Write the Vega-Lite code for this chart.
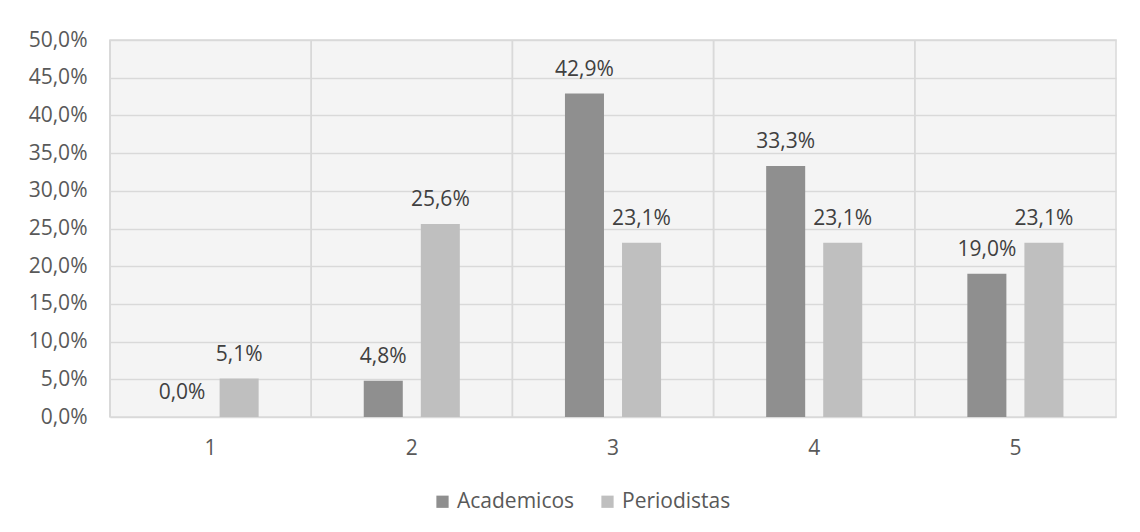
{
  "$schema": "https://vega.github.io/schema/vega-lite/v6.json",
  "width": 1006,
  "height": 377,
  "autosize": "none",
  "padding": {"left": 110, "top": 40, "right": 24, "bottom": 115},
  "background": "white",
  "config": {
    "locale": {"number": {"decimal": ",", "thousands": ".", "grouping": [3], "currency": ["", " €"]}},
    "font": "Open Sans",
    "view": {"stroke": "#d9d9d9", "strokeWidth": 1.5, "fill": "#f4f4f4"}
  },
  "data": {
    "values": [
      {"cat": "1", "serie": "Academicos", "valor": 0.0},
      {"cat": "1", "serie": "Periodistas", "valor": 0.051},
      {"cat": "2", "serie": "Academicos", "valor": 0.048},
      {"cat": "2", "serie": "Periodistas", "valor": 0.256},
      {"cat": "3", "serie": "Academicos", "valor": 0.429},
      {"cat": "3", "serie": "Periodistas", "valor": 0.231},
      {"cat": "4", "serie": "Academicos", "valor": 0.333},
      {"cat": "4", "serie": "Periodistas", "valor": 0.231},
      {"cat": "5", "serie": "Academicos", "valor": 0.19},
      {"cat": "5", "serie": "Periodistas", "valor": 0.231}
    ]
  },
  "layer": [
    {
      "mark": {"type": "rule", "color": "#d9d9d9", "strokeWidth": 1.5},
      "encoding": {
        "x": {"field": "cat", "type": "ordinal", "bandPosition": 0, "scale": {"paddingInner": 0, "paddingOuter": 0}, "axis": {"title": null, "domain": false, "ticks": false, "labelFontSize": 21, "labelColor": "#595959", "labelPadding": 20, "labelAngle": 0, "grid": false}}
      }
    },
    {
      "encoding": {
        "x": {"field": "cat", "type": "ordinal"},
        "xOffset": {"field": "serie", "type": "nominal", "scale": {"paddingInner": 0.316, "paddingOuter": 0.921}},
        "y": {"field": "valor", "type": "quantitative", "scale": {"domain": [0, 0.5], "nice": false},
          "axis": {"title": null, "format": ".1%", "values": [0, 0.05, 0.1, 0.15, 0.2, 0.25, 0.3, 0.35, 0.4, 0.45, 0.5], "labelOverlap": false, "grid": true, "gridColor": "#d9d9d9", "gridWidth": 1.5, "domain": false, "ticks": false, "labelPadding": 23, "labelFontSize": 21, "labelColor": "#595959"}}
      },
      "layer": [
        {
          "mark": {"type": "bar"},
          "encoding": {
            "color": {"field": "serie", "type": "nominal", "scale": {"domain": ["Academicos", "Periodistas"], "range": ["#8f8f8f", "#bfbfbf"]},
              "legend": {"title": null, "orient": "none", "legendX": 322, "legendY": 451, "direction": "horizontal", "symbolType": "square", "symbolSize": 150, "symbolStrokeWidth": 0, "labelFontSize": 21, "labelColor": "#595959", "labelOffset": 4, "columnPadding": 22}}
          }
        },
        {
          "mark": {"type": "text", "baseline": "alphabetic", "dy": -18, "fontSize": 21, "color": "#404040"},
          "encoding": {
            "text": {"field": "valor", "type": "quantitative", "format": ".1%"}
          }
        }
      ]
    }
  ]
}
